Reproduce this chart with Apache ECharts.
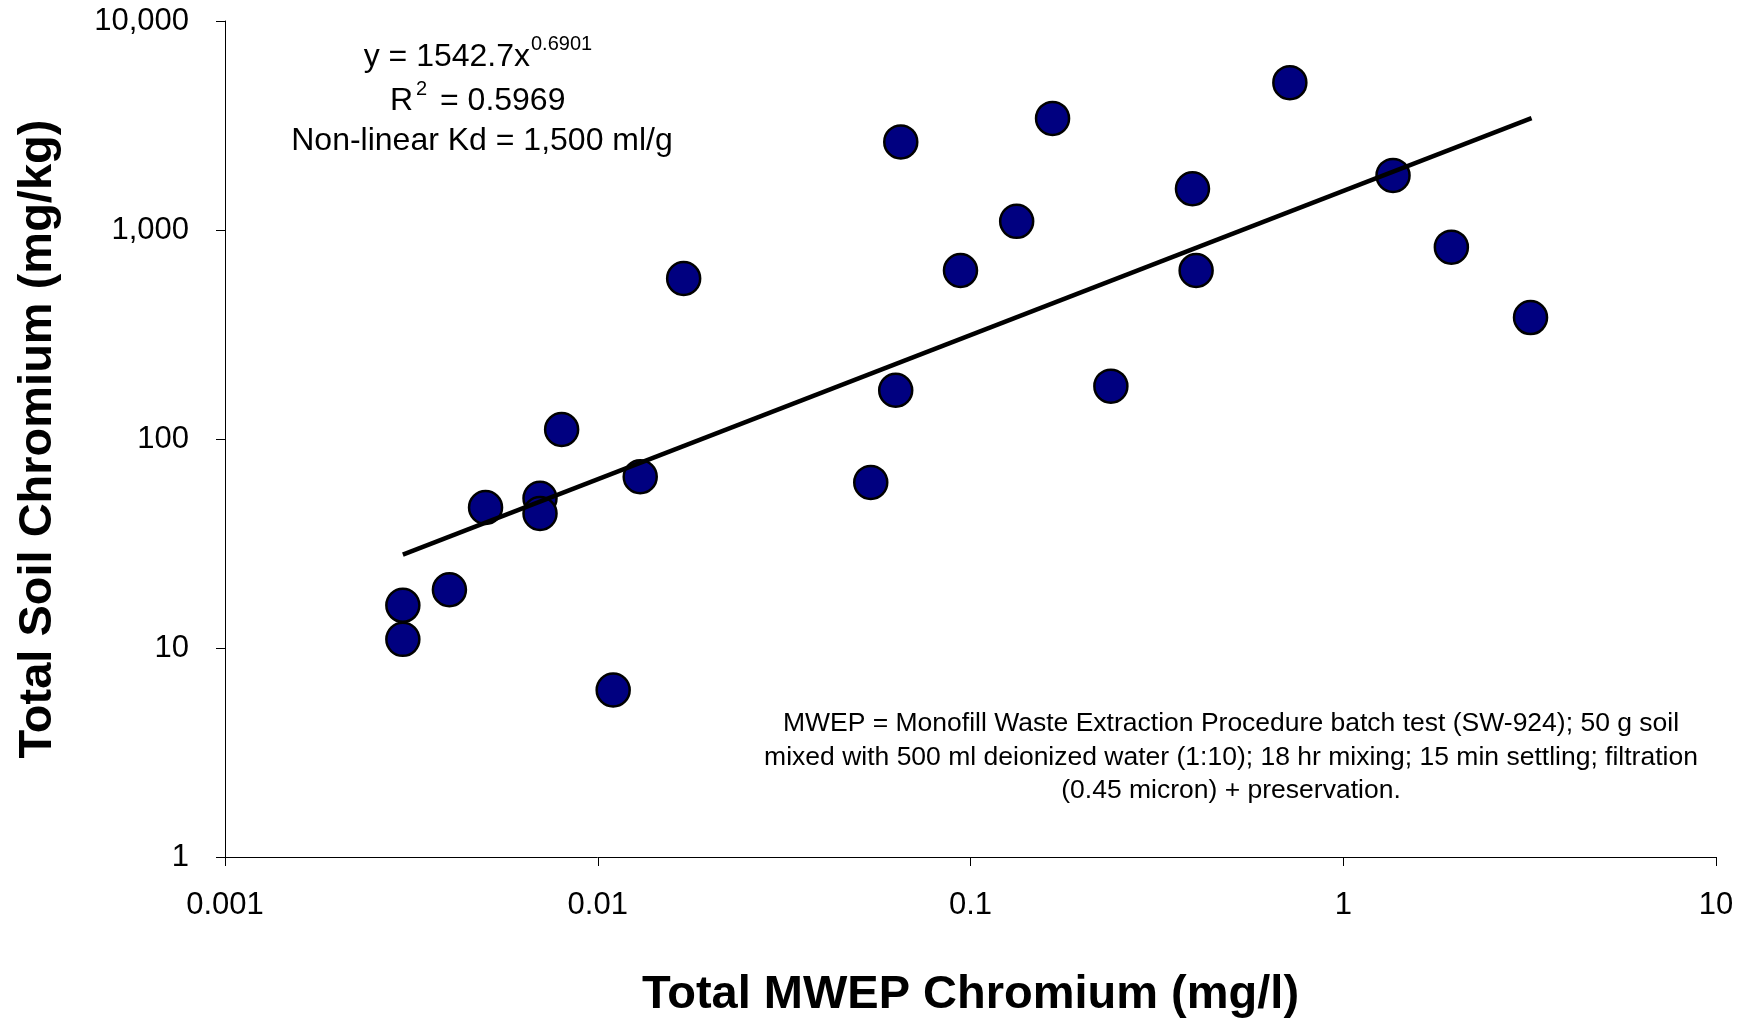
<!DOCTYPE html>
<html>
<head>
<meta charset="utf-8">
<title>Total Soil Chromium vs Total MWEP Chromium</title>
<script src="https://cdn.jsdelivr.net/npm/echarts@6/dist/echarts.min.js"></script>
<style>
  html, body { margin: 0; padding: 0; background: #fff; }
  #chart { width: 1754px; height: 1018px; }
</style>
</head>
<body>
<div id="chart"></div>
<script>
// MWEP chromium (mg/l) vs total soil chromium (mg/kg)
let mwepCr = [0.003, 0.003, 0.004, 0.005, 0.007, 0.007, 0.008, 0.011, 0.013, 0.017,
    0.054, 0.063, 0.065, 0.094, 0.133, 0.166, 0.238, 0.394, 0.403, 0.719,
    1.36, 1.95, 3.18];
let soilCr = [16, 11, 19, 47, 52, 44, 111, 6.3, 66, 586,
    62, 171, 2640, 640, 1100, 3420, 179, 1575, 640, 5070,
    1825, 828, 381];

// power trend line end points (y = 1542.7x^0.6901)
let trendX = [0.003, 3.2];
let trendY = [28, 3430];

let xTicks = [0.001, 0.01, 0.1, 1, 10];
let xTickLabels = ['0.001', '0.01', '0.1', '1', '10'];
let yTicks = [1, 10, 100, 1000, 10000];
let yTickLabels = ['1', '10', '100', '1,000', '10,000'];

let noteLines = [
    'MWEP = Monofill Waste Extraction Procedure batch test (SW-924); 50 g soil',
    'mixed with 500 ml deionized water (1:10); 18 hr mixing; 15 min settling; filtration',
    '(0.45 micron) + preservation.'
];

function tickLabel(ticks, labels) {
    return function (v) {
        for (let i = 0; i < ticks.length; i++) {
            if (Math.abs(Math.log10(v) - Math.log10(ticks[i])) < 1e-6) {
                return labels[i];
            }
        }
        return '';
    };
}

let font = 'Liberation Sans, Arial, sans-serif';

let points = [];
for (let i = 0; i < mwepCr.length; i++) {
    points.push([mwepCr[i], soilCr[i]]);
}
let trend = [];
for (let i = 0; i < trendX.length; i++) {
    trend.push([trendX[i], trendY[i]]);
}

let myChart = echarts.init(document.getElementById('chart'));

// small helper for the free text on the plot
function label(text, x, y, size, align) {
    return {
        type: 'text',
        x: x,
        y: y,
        style: {
            text: text,
            fill: '#000',
            font: size + 'px ' + font,
            textAlign: align,
            textVerticalAlign: 'middle'
        }
    };
}

let annotations = [
    label('y = 1542.7x', 530, 57, 32, 'right'),
    label('0.6901', 531, 44, 20, 'left'),
    label('R', 413, 101, 32, 'right'),
    label('2', 416, 89, 20, 'left'),
    label('= 0.5969', 440, 101, 32, 'left'),
    label('Non-linear Kd = 1,500 ml/g', 482, 141, 32, 'center')
];
for (let i = 0; i < noteLines.length; i++) {
    annotations.push(label(noteLines[i], 1231, 724 + i * 33.5, 26.5, 'center'));
}

let option = {
    backgroundColor: '#fff',
    animation: false,
    grid: {
        left: 225,
        top: 21,
        right: 38,
        bottom: 161,
        outerBoundsMode: 'none'
    },
    xAxis: {
        type: 'log',
        logBase: 10,
        min: 0.001,
        max: 10,
        name: 'Total MWEP Chromium (mg/l)',
        nameLocation: 'middle',
        nameGap: 115,
        nameTextStyle: {
            fontFamily: font,
            fontWeight: 'bold',
            fontSize: 47,
            color: '#000'
        },
        axisLine: { lineStyle: { color: '#000', width: 1 } },
        axisTick: { show: true, length: 9, lineStyle: { color: '#000' } },
        minorTick: { show: false },
        splitLine: { show: false },
        axisLabel: {
            fontFamily: font,
            fontSize: 31,
            color: '#000',
            margin: 33,
            formatter: tickLabel(xTicks, xTickLabels)
        }
    },
    yAxis: {
        type: 'log',
        logBase: 10,
        min: 1,
        max: 10000,
        name: 'Total Soil Chromium (mg/kg)',
        nameLocation: 'middle',
        nameGap: 163,
        nameTextStyle: {
            fontFamily: font,
            fontWeight: 'bold',
            fontSize: 47,
            color: '#000'
        },
        axisLine: { show: true, lineStyle: { color: '#000', width: 1 } },
        axisTick: { show: true, length: 9, lineStyle: { color: '#000' } },
        minorTick: { show: false },
        splitLine: { show: false },
        axisLabel: {
            fontFamily: font,
            fontSize: 31,
            color: '#000',
            margin: 36,
            formatter: tickLabel(yTicks, yTickLabels)
        }
    },
    series: [
        {
            name: 'Trend',
            type: 'line',
            data: trend,
            symbol: 'none',
            lineStyle: { color: '#000', width: 4.5 },
            z: 3
        },
        {
            name: 'Samples',
            type: 'scatter',
            data: points,
            symbol: 'circle',
            symbolSize: 33,
            itemStyle: {
                color: '#000080',
                borderColor: '#000',
                borderWidth: 2.5,
                opacity: 1
            },
            z: 2
        }
    ],
    graphic: annotations
};

myChart.setOption(option);
</script>
</body>
</html>
